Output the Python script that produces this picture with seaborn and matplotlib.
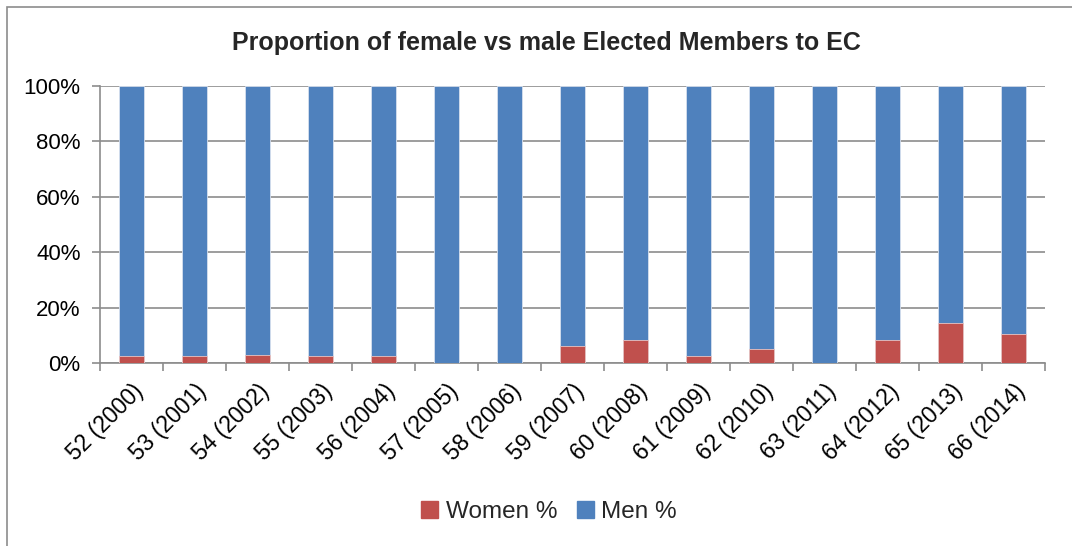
import matplotlib
matplotlib.use("Agg")
import matplotlib.pyplot as plt
import seaborn as sns
import pandas as pd
from matplotlib.patches import Rectangle, Patch
from matplotlib.ticker import PercentFormatter, FixedLocator

categories = ["52 (2000)", "53 (2001)", "54 (2002)", "55 (2003)", "56 (2004)",
              "57 (2005)", "58 (2006)", "59 (2007)", "60 (2008)", "61 (2009)",
              "62 (2010)", "63 (2011)", "64 (2012)", "65 (2013)", "66 (2014)"]
women = [2.6, 2.6, 2.8, 2.6, 2.6, 0.0, 0.0, 6.1, 8.4, 2.5, 5.0, 0.0, 8.4, 14.3, 10.6]
men = [100 - w for w in women]

RED = "#C0504D"
BLUE = "#4F81BD"

sns.set_theme(style="white")
plt.rcParams["font.family"] = ["Liberation Sans", "DejaVu Sans"]

df = pd.DataFrame({"cat": categories, "women": women, "men": men})
df["total"] = df["women"] + df["men"]

fig = plt.figure(figsize=(10.72, 5.46), dpi=100)
ax = fig.add_axes([100/1072, 1 - 363/546, 945/1072, 277/546])

sns.barplot(data=df, x="cat", y="total", color=BLUE, width=0.4, ax=ax,
            saturation=1, edgecolor="#D6E0EE", linewidth=0.6, zorder=3)
sns.barplot(data=df, x="cat", y="women", color=RED, width=0.4, ax=ax,
            saturation=1, edgecolor="#E8C4C3", linewidth=0.6, zorder=4)

ax.set_xlim(-0.5, len(categories) - 0.5)
ax.set_ylim(0, 100)
ax.yaxis.set_major_locator(FixedLocator([0, 20, 40, 60, 80, 100]))
ax.yaxis.set_major_formatter(PercentFormatter(decimals=0))
ax.grid(axis="y", color="#8C8C8C", linewidth=1.2, zorder=0)
ax.set_axisbelow(True)
ax.set_xlabel("")
ax.set_ylabel("")

for s in ["top", "right"]:
    ax.spines[s].set_visible(False)
for s in ["left", "bottom"]:
    ax.spines[s].set_color("#8C8C8C")
    ax.spines[s].set_linewidth(1.2)

ax.tick_params(axis="y", which="major", length=6, width=1.2, color="#8C8C8C",
               labelsize=16, pad=8, left=True, labelcolor="black")
ax.set_xticks(range(len(categories)))
ax.set_xticklabels(categories, rotation=45, ha="right", rotation_mode="anchor",
                   fontsize=16.5, color="black")
ax.tick_params(axis="x", which="major", length=0, pad=12)
ax.set_xticks([i - 0.5 for i in range(len(categories) + 1)], minor=True)
ax.tick_params(axis="x", which="minor", length=6, width=1.2, color="#8C8C8C",
               bottom=True)

fig.text(546/1072, 1 - 43/546, "Proportion of female vs male Elected Members to EC",
         ha="center", va="center", fontsize=18, fontweight="bold")

handles = [Patch(facecolor=RED, edgecolor=RED), Patch(facecolor=BLUE, edgecolor=BLUE)]
fig.legend(handles, ["Women %", "Men %"], loc="center", bbox_to_anchor=(549/1072, 1 - 512/546),
           ncol=2, frameon=False, fontsize=17.5, handlelength=0.7, handleheight=0.7,
           handletextpad=0.3, columnspacing=0.8)

fig.patches.append(Rectangle((7/1072, -0.01), 1.1, 1 - 7/546 + 0.01,
                             transform=fig.transFigure, fill=False,
                             edgecolor="#8C8C8C", linewidth=1.2))

fig.savefig("out.png", dpi=100)
